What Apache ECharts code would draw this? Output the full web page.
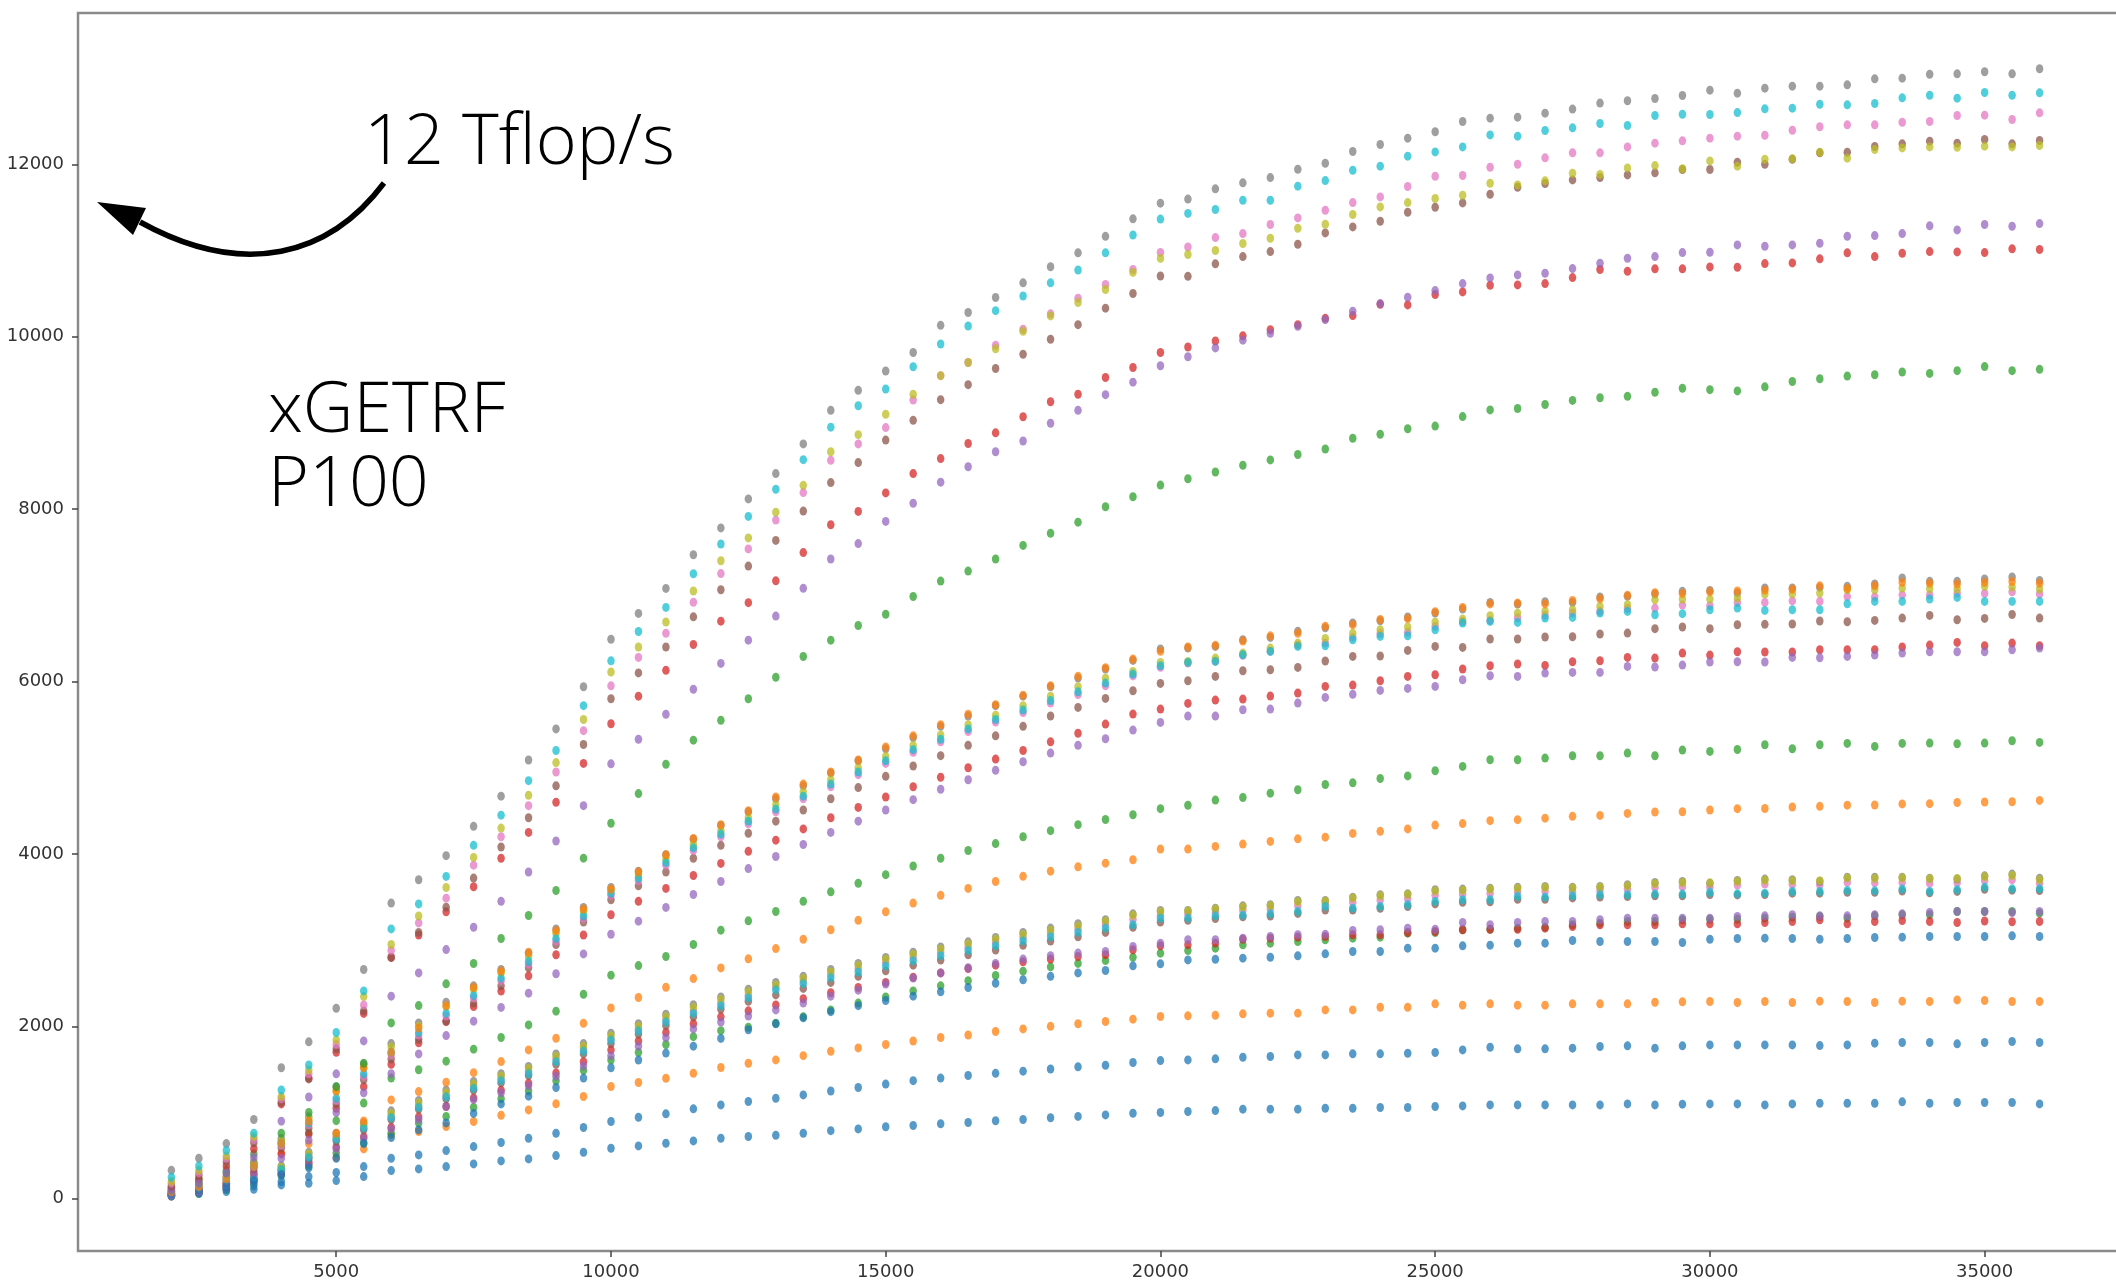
<!DOCTYPE html>
<html>
<head>
<meta charset="utf-8">
<title>xGETRF P100</title>
<script src="https://cdn.jsdelivr.net/npm/echarts@6/dist/echarts.min.js"></script>
<style>
  html, body { margin: 0; padding: 0; background: #fff; }
  #container { width: 2116px; height: 1286px; }
</style>
</head>
<body>
<div id="container"></div>
<script>
// matrix size N
var sizes = [2000,2500,3000,3500,4000,4500,5000,5500,6000,6500,7000,7500,8000,8500,9000,9500,10000,10500,11000,11500,
  12000,12500,13000,13500,14000,14500,15000,15500,16000,16500,17000,17500,18000,18500,19000,19500,20000,20500,21000,21500,
  22000,22500,23000,23500,24000,24500,25000,25500,26000,26500,27000,27500,28000,28500,29000,29500,30000,30500,31000,31500,
  32000,32500,33000,33500,34000,34500,35000,35500,36000];
var xTicks = [5000,10000,15000,20000,25000,30000,35000];
var yTicks = [0,2000,4000,6000,8000,10000,12000];

// Gflop/s, lowest family
var g1Blue = [45,64,84,110,161,180,211,257,327,346,373,404,439,462,501,540,586,613,644,671,702,722,737,
  760,790,810,835,850,870,885,905,920,940,955,
  973,992,1000,1012,1023,1039,1039,1039,1050,1050,1058,1058,1070,1077,1089,1089,1089,1089,1089,1100,1089,1097,1100,1100,1089,1100,1108,1108,1108,1124,1108,1116,1116,1116,1100];
var g1Orange = [40,90,150,230,330,400,480,578,741,780,838,896,969,1031,1101,1186,1302,1348,1398,1456,1522,1572,1611,1660,1710,1750,1790,1830,1870,1900,1940,1970,2000,2030,
  2056,2083,2114,2122,2129,2145,2153,2153,2191,2191,2222,2222,2261,2246,2261,2246,2246,2261,2261,2261,2280,2284,2288,2277,2288,2277,2292,2288,2277,2292,2288,2307,2300,2288,2288];
var g1Green = [30,60,110,180,270,380,530,650,760,880,954,1060,1160,1250,1370,1490,1610,1700,1790,1880,1950,1990,2036,2110,2190,2270,2340,2410,2470,2530,2590,2640,2690,2730,
  2764,2802,2849,2880,2907,2946,2965,2984,3004,3023,3035,3081,3089,3120,3127,3139,3151,3178,3197,3216,3216,3236,3243,3243,3255,3267,3274,3255,3282,3294,3294,3332,3332,3332,3313];
var g1Red = [35,75,130,210,300,430,600,720,830,950,1070,1170,1260,1340,1460,1590,1727,1830,1930,2030,2110,2180,2249,2320,2390,2450,2510,2570,2620,2670,2710,2750,2780,2810,
  2830,2888,2934,2946,2965,3011,3023,3035,3042,3062,3062,3089,3100,3120,3127,3127,3139,3158,3178,3178,3178,3189,3189,3189,3205,3216,3236,3189,3216,3228,3216,3205,3222,3214,3216];
var g1Purple = [30,70,120,200,290,410,580,700,810,920,1070,1150,1230,1310,1420,1540,1660,1770,1870,1970,2050,2120,2191,2270,2350,2420,2490,2560,2620,2680,2730,2780,2820,2850,
  2868,2926,2965,3004,3004,3023,3042,3062,3069,3112,3120,3139,3127,3205,3178,3205,3216,3216,3236,3255,3255,3255,3255,3274,3282,3294,3282,3282,3294,3305,3321,3332,3332,3321,3332];
var g1Brown = [40,85,140,230,330,470,670,800,920,1040,1160,1260,1345,1430,1560,1680,1800,1910,2010,2110,2200,2290,2365,2440,2510,2580,2645,2710,2770,2830,2885,2940,2990,3040,
  3090,3150,3210,3230,3250,3270,3280,3310,3350,3350,3370,3390,3420,3440,3445,3475,3475,3490,3500,3505,3515,3515,3530,3525,3530,3545,3545,3555,3555,3570,3550,3565,3590,3580,3576];
var g1Pink = [45,95,160,250,350,500,710,840,960,1080,1200,1300,1395,1480,1620,1740,1860,1965,2075,2180,2270,2360,2450,2525,2600,2670,2740,2800,2860,2920,2975,3030,3080,3130,
  3180,3240,3290,3300,3325,3345,3360,3400,3420,3440,3465,3480,3520,3535,3540,3560,3565,3565,3575,3590,3610,3620,3615,3640,3650,3645,3640,3670,3665,3670,3660,3665,3690,3700,3661];
var g1Gray = [60,110,180,280,380,540,760,880,1020,1140,1263,1360,1450,1534,1680,1800,1921,2030,2140,2250,2340,2430,2508,2580,2660,2730,2800,2860,2920,2980,3030,3090,3140,3190,
  3236,3305,3344,3344,3371,3398,3410,3460,3460,3499,3526,3537,3584,3592,3603,3615,3622,3615,3622,3642,3669,3680,3661,3692,3708,3700,3680,3731,3731,3731,3719,3708,3746,3766,3719];
var g1Olive = [50,100,170,265,365,520,735,860,990,1110,1230,1330,1425,1510,1650,1770,1890,2000,2110,2220,2310,2400,2480,2555,2630,2705,2775,2835,2895,2955,3010,3065,3115,3165,
  3220,3290,3330,3335,3360,3385,3400,3445,3450,3490,3515,3530,3570,3580,3590,3600,3612,3605,3615,3630,3655,3668,3665,3680,3695,3690,3690,3720,3715,3722,3712,3715,3735,3750,3700];
var g1Cyan = [40,90,150,240,340,480,690,820,940,1060,1180,1280,1370,1450,1590,1710,1840,1945,2050,2150,2240,2330,2423,2495,2565,2630,2700,2760,2820,2880,2935,2990,3040,3090,
  3139,3178,3255,3255,3282,3290,3305,3332,3390,3371,3390,3410,3448,3468,3468,3506,3499,3514,3526,3526,3534,3534,3553,3537,3545,3564,3564,3576,3572,3592,3564,3584,3615,3595,3595];

// middle family
var g2Blue = [40,70,110,150,200,257,304,373,470,509,559,605,652,702,760,826,896,946,985,1043,1089,1128,1166,1205,1250,1290,1330,1370,1400,1430,1455,1480,1505,1530,
  1549,1580,1603,1611,1623,1642,1650,1669,1669,1681,1681,1688,1696,1727,1758,1739,1739,1747,1766,1774,1747,1774,1785,1785,1785,1785,1777,1785,1805,1812,1812,1797,1812,1824,1812];
var g2Orange = [90,170,260,380,530,640,760,903,1147,1243,1352,1463,1591,1727,1862,2036,2214,2334,2454,2554,2678,2783,2902,3010,3120,3230,3330,3430,3520,3600,3680,3740,3800,3850,
  3893,3932,4056,4056,4087,4114,4145,4175,4195,4238,4262,4290,4335,4352,4386,4398,4415,4436,4447,4470,4486,4490,4510,4525,4527,4545,4552,4566,4568,4580,4583,4597,4602,4606,4621];
var g2Green = [130,220,330,415,659,767,906,1110,1400,1497,1596,1735,1870,2017,2176,2373,2594,2705,2810,2949,3116,3224,3332,3450,3560,3660,3760,3860,3950,4040,4120,4200,4270,4340,
  4400,4455,4525,4565,4625,4655,4705,4745,4805,4825,4875,4905,4965,5015,
  5092,5092,5112,5139,5139,5170,5139,5205,5189,5212,5267,5220,5267,5282,5247,5282,5286,5278,5286,5313,5294];
var g2Red = [60,100,180,310,520,750,1050,1300,1560,1810,2056,2230,2410,2586,2830,3060,3294,3450,3600,3750,3890,4030,4160,4290,4420,4540,4660,4780,4890,5000,5100,5200,5300,5400,
  5506,5622,5680,5746,5785,5796,5831,5866,5943,5959,6009,6059,6079,6145,6183,6203,6187,6230,6241,6280,6272,6330,6307,6346,6342,6342,6369,6369,6369,6400,6423,6454,6415,6446,6415];
var g2Purple = [50,90,160,280,470,680,1000,1230,1450,1680,1893,2060,2220,2385,2610,2840,3069,3220,3380,3530,3680,3830,3970,4110,4250,4380,4510,4630,4750,4860,4970,5070,5170,5260,
  5336,5437,5526,5599,5599,5673,5680,5750,5816,5851,5897,5920,5943,6021,6067,6059,6098,6106,6106,6175,6168,6191,6226,6230,6226,6280,6276,6291,6307,6330,6346,6346,6346,6369,6388];
var g2Brown = [70,110,200,350,590,820,1100,1380,1620,1850,2060,2270,2470,2680,2950,3210,3468,3630,3790,3950,4100,4240,4380,4510,4640,4770,4900,5020,5140,5260,5370,5480,5600,5700,
  5804,5893,5978,6009,6059,6125,6137,6164,6238,6291,6296,6361,6407,6396,6493,6493,6516,6520,6551,6562,6613,6632,6613,6659,6663,6667,6702,6694,6709,6736,6767,6717,6732,6778,6736];
var g2Pink = [70,120,210,370,620,860,1140,1420,1670,1900,2120,2330,2530,2720,2990,3250,3520,3690,3870,4040,4200,4350,4490,4640,4780,4920,5050,5180,5300,5420,5530,5640,5750,5850,
  5950,6065,6165,6215,6238,6305,6352,6425,6448,6515,6556,6572,6640,6695,6712,6738,6768,6795,6815,6846,6852,6887,6880,6915,6918,6935,6930,6985,6982,7005,7004,7025,7022,7040,7015];
var g2Gray = [90,150,250,420,700,950,1298,1560,1800,2040,2280,2470,2660,2849,3130,3380,3611,3800,3990,4170,4330,4490,4640,4790,4940,5080,5220,5350,5480,5600,5720,5830,5940,6040,
  6145,6245,6377,6388,6407,6485,6512,6582,6624,6679,6705,6748,6795,6841,6918,6899,6926,6918,6980,6988,7015,7046,7057,7027,7085,7085,7092,7104,7131,7201,7162,7162,7189,7212,7173];
var g2Olive = [80,140,230,400,670,920,1250,1520,1760,2000,2230,2430,2620,2810,3080,3330,3580,3760,3940,4110,4270,4420,4570,4720,4860,5000,5130,5260,5380,5500,5610,5720,5830,5940,
  6040,6117,6222,6233,6272,6330,6388,6446,6500,6562,6601,6632,6690,6724,6763,6794,6813,6833,6871,6891,6949,6956,6956,6968,7015,7018,7026,7065,7065,7084,7076,7073,7104,7096,7073];
var g2Cyan = [80,130,220,380,640,880,1166,1450,1700,1930,2153,2360,2560,2752,3020,3280,3545,3720,3900,4070,4230,4380,4520,4670,4810,4950,5080,5210,5330,5450,5560,5670,5780,5880,
  5982,6086,6183,6222,6233,6311,6349,6407,6415,6485,6523,6531,6601,6678,6697,6686,6736,6744,6794,6813,6775,6787,6833,6852,6825,6833,6833,6902,6929,6929,6957,6976,6929,6929,6929];

// top family
var g3Blue = [60,100,150,210,280,360,470,640,710,800,880,990,1100,1190,1290,1400,1520,1610,1690,1770,1860,1960,2030,2100,2170,2240,2300,2350,2400,2450,2500,2540,2580,2620,
  2648,2702,2725,2771,2779,2791,2802,2818,2841,2868,2868,2907,2907,2934,2942,2965,2965,2996,2984,2984,2984,2973,3011,3019,3023,3019,3011,3019,3031,3035,3042,3042,3042,3050,3042];
var g3Orange = [80,140,230,380,640,900,1250,1520,1700,1980,2240,2450,2640,2860,3110,3360,3590,3790,3990,4180,4340,4500,4660,4810,4950,5090,5240,5370,5500,5620,5730,5840,5950,6060,
  6160,6260,6350,6400,6420,6470,6530,6560,6640,6660,6720,6730,6810,6860,6900,6910,6900,6940,6960,7000,7030,7020,7040,7050,7060,7070,7110,7080,7110,7150,7140,7130,7150,7160,7140];
var g3Green = [110,190,300,520,760,1000,1300,1572,2040,2241,2493,2729,3019,3286,3576,3951,4356,4700,5040,5320,5550,5800,6050,6290,6480,6650,
  6780,6986,7165,7281,7421,7579,7720,7849,8027,8143,8279,8352,
  8430,8509,8571,8634,8697,8822,8869,8932,8963,9073,9151,9167,9214,9261,9292,9308,9355,9402,9386,9371,9418,9480,9512,9543,9559,9590,9574,9606,9653,9606,9621];
var g3Red = [130,230,380,580,1100,1400,1700,2150,2800,3060,3330,3620,3950,4250,4600,5050,5510,5830,6130,6430,6700,
  6915,7168,7496,7819,7973,8188,8412,8586,8761,8885,9071,9246,9333,9527,9643,9817,9880,9950,10010,
  10082,10140,10213,10245,10376,10369,10489,10520,10597,10601,10616,10686,10779,10759,10787,10787,10810,10806,10848,10856,10903,10973,10929,10968,10987,10984,10976,11019,11011];
var g3Purple = [100,180,300,480,900,1180,1449,1831,2350,2620,2890,3150,3450,3790,4150,4560,5045,5330,5620,5910,6210,6480,
  6759,7081,7421,7600,7857,8068,8313,8492,8665,8790,8996,9146,9328,9473,9663,9768,9870,9960,10040,
  10121,10198,10295,10384,10457,10535,10616,10682,10717,10736,10790,10852,10910,10929,10976,10980,11065,11049,11065,11084,11165,11173,11196,11286,11239,11301,11281,11312];
var g3Brown = [150,270,430,650,1120,1390,1739,2179,2800,3090,3383,3720,4080,4420,4790,5270,5800,6100,6400,6750,
  7065,7339,7637,7977,8308,8540,8801,9030,9270,9444,9631,9797,9971,10140,10331,10501,10704,10700,
  10845,10929,10987,11072,11204,11274,11339,11444,11502,11552,11653,11734,11777,11819,11846,11877,11901,11939,11939,12024,12001,12059,12133,12140,12206,12237,12268,12245,12288,12237,12276];
var g3Pink = [180,300,470,690,1160,1450,1790,2249,2880,3200,3487,3870,4200,4560,4950,5430,5950,6280,6560,6920,
  7252,7538,7873,8192,8566,8756,8946,9266,9548,9701,9900,10087,10265,10447,10605,10779,10977,11040,
  11150,11196,11301,11378,11467,11556,11622,11742,11861,11870,11966,12001,12075,12133,12133,12202,12245,12272,12303,12326,12337,12395,12435,12458,12458,12488,12496,12566,12570,12519,12597];
var g3Gray = [330,470,640,920,1520,1820,2210,2660,3430,3700,3980,4320,4670,5090,5450,5940,6490,6790,7080,7470,
  7782,8118,8412,8756,9146,9378,9602,9817,10132,10281,10455,10625,10812,10973,11164,11367,11549,11596,
  11715,11785,11846,11943,12012,12148,12229,12303,12377,12496,12535,12547,12593,12640,12710,12737,12763,12798,12860,12825,12883,12906,12906,12922,12991,12999,13045,13049,13073,13049,13108];
var g3Olive = [200,330,500,720,1185,1494,1843,2345,2950,3280,3611,3960,4300,4680,5060,5560,6110,6400,6690,7050,
  7401,7666,7965,8276,8665,8864,9101,9333,9548,9701,9859,10062,10241,10397,10547,10746,10908,10953,
  11000,11081,11142,11258,11305,11417,11506,11556,11603,11641,11780,11761,11808,11896,11881,11958,11985,11947,12039,11978,12059,12063,12140,12071,12171,12190,12202,12198,12210,12202,12218];
var g3Cyan = [250,380,560,761,1261,1552,1928,2411,3130,3420,3739,4100,4450,4850,5200,5720,6240,6580,6860,7250,
  7595,7915,8230,8574,8951,9199,9394,9652,9916,10124,10302,10472,10625,10774,10973,11180,11364,11430,
  11475,11583,11583,11746,11811,11931,11978,12094,12144,12202,12341,12326,12392,12423,12473,12450,12566,12581,12577,12600,12643,12651,12697,12690,12705,12771,12801,12767,12833,12801,12829];

// matplotlib default cycle
var colors = ['#1f77b4','#ff7f0e','#2ca02c','#d62728','#9467bd','#8c564b','#e377c2','#7f7f7f','#bcbd22','#17becf'];
var runs = [
  g1Blue, g1Orange, g1Green, g1Red, g1Purple, g1Brown, g1Pink, g1Gray, g1Olive, g1Cyan,
  g2Blue, g2Orange, g2Green, g2Red, g2Purple, g2Brown, g2Pink, g2Gray, g2Olive, g2Cyan,
  g3Blue, g3Orange, g3Green, g3Red, g3Purple, g3Brown, g3Pink, g3Gray, g3Olive, g3Cyan
];

var dom = document.getElementById('container');
var myChart = echarts.init(dom, null, { renderer: 'canvas' });

var seriesList = runs.map(function (vals, k) {
  return {
    type: 'scatter',
    name: 'run' + k,
    symbol: 'circle',
    symbolSize: [7.5, 9],
    silent: true,
    itemStyle: { color: colors[k % 10], opacity: 0.75 },
    data: sizes.map(function (n, i) { return [n, vals[i]]; })
  };
});

var axisText = { fontFamily: 'DejaVu Sans', fontSize: 18, color: '#333',
  formatter: function (v) { return String(v); } };
var bigFont = { fontFamily: 'Open Sans', fontWeight: 300, fontSize: 70, fill: '#000' };

var option = {
  animation: false,
  backgroundColor: '#fff',
  // axes box runs past the right edge of the picture
  grid: {
    left: 78, top: 13, right: -17, bottom: 35,
    outerBoundsMode: 'none',
    show: true, borderColor: '#8a8a8a', borderWidth: 2.5, backgroundColor: 'transparent'
  },
  xAxis: {
    type: 'value', min: 300, max: 37700,
    splitLine: { show: false },
    axisLine: { show: false, onZero: false },
    axisTick: { show: true, customValues: xTicks, length: 6, lineStyle: { color: '#444', width: 1.5 } },
    axisLabel: Object.assign({ customValues: xTicks, margin: 12 }, axisText)
  },
  yAxis: {
    type: 'value', min: -606, max: 13755,
    splitLine: { show: false },
    axisLine: { show: false, onZero: false },
    axisTick: { show: true, customValues: yTicks, length: 6, lineStyle: { color: '#444', width: 1.5 } },
    axisLabel: Object.assign({ customValues: yTicks, margin: 14 }, axisText)
  },
  graphic: [
    { type: 'text', x: 364, y: 144, style: Object.assign({ text: '12 Tflop/s', verticalAlign: 'middle' }, bigFont) },
    { type: 'text', x: 268, y: 412, style: Object.assign({ text: 'xGETRF', verticalAlign: 'middle' }, bigFont) },
    { type: 'text', x: 268, y: 486, style: Object.assign({ text: 'P100', verticalAlign: 'middle' }, bigFont) },
    // curved arrow pointing at the axis
    { type: 'bezierCurve', shape: { x1: 384, y1: 183, cpx1: 330, cpy1: 255, cpx2: 245, cpy2: 280, x2: 140, y2: 222 },
      style: { stroke: '#000', lineWidth: 5.5, fill: null } },
    { type: 'polygon', shape: { points: [[97, 202], [146, 208], [133, 235]] },
      style: { fill: '#000' } }
  ],
  series: seriesList
};

myChart.setOption(option);
window.addEventListener('resize', function () {
  myChart.resize();
});
</script>
</body>
</html>
